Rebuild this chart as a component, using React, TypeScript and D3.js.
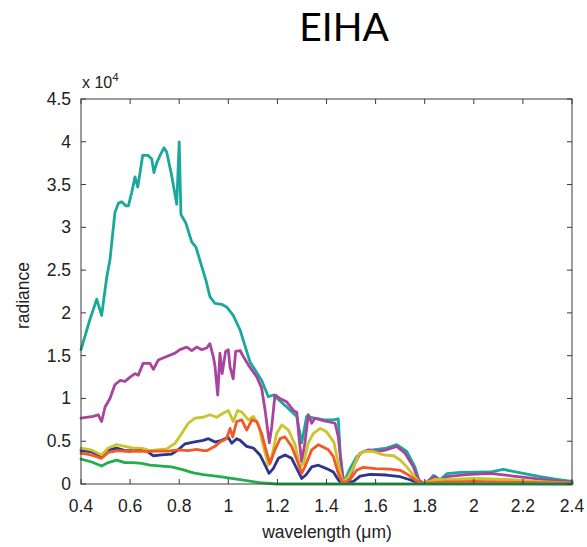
import React from "react";
import * as d3 from "d3";

const title = "EIHA";
const xTicks = [0.4, 0.6, 0.8, 1, 1.2, 1.4, 1.6, 1.8, 2, 2.2, 2.4];
const yTicks = [0, 0.5, 1, 1.5, 2, 2.5, 3, 3.5, 4, 4.5];

const teal: [number, number][] = [
  [0.4, 1.57], [0.436, 1.92], [0.464, 2.16], [0.484, 1.97], [0.505, 2.42], [0.518, 2.62], [0.538, 3.17],
  [0.552, 3.28], [0.566, 3.3], [0.583, 3.25], [0.593, 3.25], [0.606, 3.4], [0.62, 3.59], [0.631, 3.47],
  [0.64, 3.63], [0.651, 3.84], [0.674, 3.84], [0.688, 3.8], [0.697, 3.64], [0.708, 3.75], [0.722, 3.84],
  [0.738, 3.93], [0.749, 3.88], [0.769, 3.61], [0.79, 3.27], [0.8, 4.0], [0.807, 3.15], [0.827, 3.05],
  [0.851, 2.83], [0.868, 2.77], [0.892, 2.54], [0.909, 2.38], [0.925, 2.19], [0.946, 2.11], [0.973, 2.1],
  [0.993, 2.07], [1.02, 1.97], [1.048, 1.8], [1.088, 1.43], [1.136, 1.21], [1.163, 1.02], [1.183, 1.04],
  [1.238, 0.9], [1.279, 0.79], [1.299, 0.48], [1.319, 0.79], [1.35, 0.77], [1.39, 0.75], [1.428, 0.75],
  [1.448, 0.76], [1.456, 0.36], [1.47, 0.01], [1.496, 0.18], [1.523, 0.32], [1.55, 0.38], [1.59, 0.4],
  [1.645, 0.42], [1.686, 0.46], [1.727, 0.38], [1.76, 0.2], [1.78, 0.01], [1.81, 0.01], [1.835, 0.1],
  [1.862, 0.05], [1.89, 0.12], [1.944, 0.137], [2.066, 0.14], [2.12, 0.17], [2.175, 0.14], [2.27, 0.085],
  [2.338, 0.055], [2.4, 0.03],
];

const magenta: [number, number][] = [
  [0.4, 0.77], [0.45, 0.79], [0.47, 0.81], [0.484, 0.73], [0.498, 0.9], [0.518, 1.0], [0.538, 1.16],
  [0.559, 1.21], [0.579, 1.2], [0.6, 1.25], [0.62, 1.29], [0.633, 1.27], [0.653, 1.41], [0.681, 1.41],
  [0.695, 1.34], [0.715, 1.45], [0.749, 1.49], [0.783, 1.53], [0.803, 1.57], [0.831, 1.6], [0.851, 1.56],
  [0.871, 1.6], [0.892, 1.57], [0.912, 1.59], [0.925, 1.64], [0.939, 1.49], [0.946, 1.37], [0.957, 1.04],
  [0.966, 1.53], [0.975, 1.29], [0.989, 1.55], [1.0, 1.57], [1.007, 1.37], [1.02, 1.23], [1.03, 1.55],
  [1.048, 1.56], [1.061, 1.49], [1.082, 1.39], [1.116, 1.25], [1.136, 1.12], [1.15, 0.86], [1.167, 0.48],
  [1.177, 0.67], [1.19, 1.04], [1.21, 1.0], [1.238, 0.96], [1.265, 0.86], [1.279, 0.84], [1.289, 0.51],
  [1.299, 0.26], [1.312, 0.48], [1.326, 0.81], [1.34, 0.71], [1.353, 0.77], [1.387, 0.74], [1.435, 0.71],
  [1.448, 0.55], [1.462, 0.16], [1.471, 0.01], [1.496, 0.085], [1.516, 0.24], [1.537, 0.36], [1.571, 0.4],
  [1.611, 0.38], [1.645, 0.4], [1.686, 0.44], [1.72, 0.36], [1.754, 0.2], [1.774, 0.05], [1.795, 0.01],
  [1.822, 0.05], [1.842, 0.09], [1.862, 0.03], [1.89, 0.085], [1.97, 0.11], [2.066, 0.125], [2.16, 0.093],
  [2.27, 0.058], [2.4, 0.02],
];

const yellow: [number, number][] = [
  [0.4, 0.42], [0.441, 0.4], [0.484, 0.34], [0.511, 0.42], [0.545, 0.46], [0.579, 0.44], [0.613, 0.42],
  [0.647, 0.42], [0.681, 0.39], [0.708, 0.4], [0.749, 0.41], [0.783, 0.475], [0.81, 0.59], [0.837, 0.71],
  [0.864, 0.77], [0.898, 0.78], [0.925, 0.81], [0.953, 0.78], [0.98, 0.83], [1.0, 0.86], [1.02, 0.73],
  [1.038, 0.86], [1.055, 0.84], [1.082, 0.75], [1.102, 0.79], [1.123, 0.69], [1.143, 0.44], [1.163, 0.22],
  [1.177, 0.32], [1.197, 0.59], [1.218, 0.69], [1.245, 0.63], [1.272, 0.46], [1.292, 0.2], [1.306, 0.24],
  [1.326, 0.48], [1.346, 0.59], [1.374, 0.65], [1.4, 0.61], [1.43, 0.49], [1.448, 0.24], [1.466, 0.02],
  [1.489, 0.085], [1.51, 0.2], [1.53, 0.34], [1.557, 0.385], [1.59, 0.38], [1.632, 0.34], [1.673, 0.33],
  [1.7, 0.28], [1.727, 0.2], [1.754, 0.105], [1.78, 0.01], [1.822, 0.03], [1.842, 0.055], [1.89, 0.05],
  [1.997, 0.066], [2.133, 0.055], [2.27, 0.027], [2.4, 0.01],
];

const orange: [number, number][] = [
  [0.4, 0.36], [0.441, 0.34], [0.484, 0.3], [0.511, 0.37], [0.552, 0.39], [0.593, 0.38], [0.633, 0.385],
  [0.674, 0.38], [0.715, 0.385], [0.756, 0.385], [0.796, 0.4], [0.837, 0.39], [0.871, 0.405], [0.898, 0.39],
  [0.912, 0.39], [0.946, 0.44], [0.966, 0.49], [0.993, 0.53], [1.007, 0.65], [1.018, 0.55], [1.034, 0.73],
  [1.055, 0.75], [1.075, 0.63], [1.096, 0.75], [1.116, 0.73], [1.136, 0.59], [1.157, 0.36], [1.17, 0.24],
  [1.19, 0.4], [1.211, 0.53], [1.231, 0.55], [1.258, 0.44], [1.285, 0.24], [1.299, 0.125], [1.312, 0.2],
  [1.34, 0.4], [1.367, 0.46], [1.408, 0.4], [1.428, 0.32], [1.448, 0.125], [1.466, 0.01], [1.496, 0.05],
  [1.523, 0.16], [1.55, 0.195], [1.6, 0.18], [1.66, 0.175], [1.7, 0.16], [1.734, 0.105], [1.768, 0.035],
  [1.795, 0.01], [1.89, 0.025], [2.0, 0.03], [2.2, 0.02], [2.4, 0.01],
];

const blue: [number, number][] = [
  [0.4, 0.39], [0.441, 0.38], [0.484, 0.32], [0.511, 0.4], [0.545, 0.42], [0.579, 0.39], [0.62, 0.39],
  [0.661, 0.4], [0.695, 0.33], [0.729, 0.34], [0.769, 0.35], [0.796, 0.4], [0.824, 0.47], [0.858, 0.49],
  [0.898, 0.51], [0.919, 0.53], [0.946, 0.49], [0.973, 0.51], [1.0, 0.545], [1.014, 0.475], [1.034, 0.53],
  [1.048, 0.51], [1.075, 0.44], [1.102, 0.42], [1.129, 0.34], [1.15, 0.22], [1.166, 0.125], [1.183, 0.18],
  [1.204, 0.3], [1.231, 0.34], [1.258, 0.3], [1.279, 0.18], [1.299, 0.065], [1.316, 0.105], [1.34, 0.2],
  [1.367, 0.22], [1.4, 0.18], [1.428, 0.14], [1.448, 0.05], [1.46, 0.01], [1.51, 0.03], [1.537, 0.093],
  [1.578, 0.113], [1.645, 0.105], [1.7, 0.085], [1.74, 0.05], [1.775, 0.01], [1.9, 0.005], [2.4, 0.003],
];

const green: [number, number][] = [
  [0.4, 0.29], [0.441, 0.26], [0.484, 0.21], [0.511, 0.25], [0.545, 0.28], [0.579, 0.25], [0.613, 0.25],
  [0.647, 0.24], [0.681, 0.22], [0.729, 0.21], [0.769, 0.2], [0.81, 0.17], [0.858, 0.13], [0.898, 0.11],
  [0.966, 0.085], [1.048, 0.05], [1.129, 0.015], [1.197, 0.0], [2.4, 0.0],
];

const seriesList = [
  { name: "teal", data: teal, color: "#1aa89c" },
  { name: "magenta", data: magenta, color: "#a8449e" },
  { name: "blue", data: blue, color: "#2b3590" },
  { name: "yellow", data: yellow, color: "#c9c52a" },
  { name: "orange", data: orange, color: "#f15a26" },
  { name: "green", data: green, color: "#21ae4b" },
];

const W = 587;
const H = 547;
const left = 81;
const right = 572;
const top = 99;
const bottom = 484;
const axisFont = "'Liberation Sans', Arial, sans-serif";

export default function App() {
  const x = d3.scaleLinear().domain([0.4, 2.4]).range([left, right]);
  const y = d3.scaleLinear().domain([0, 4.5]).range([bottom, top]);
  const line = d3
    .line<[number, number]>()
    .x((d) => x(d[0]))
    .y((d) => y(d[1]));
  const tickLen = 5;
  const axisColor = "#3a3a3a";
  return (
    <svg
      width={W}
      height={H}
      style={{ position: "absolute", left: 0, top: 0, background: "#fff" }}
    >
      <text
        x={344}
        y={41}
        textAnchor="middle"
        fontFamily="Lato, 'Open Sans', sans-serif"
        fontSize={39}
        fill="#000"
      >
        {title}
      </text>
      <g>
        {seriesList.map((s) => (
          <path
            key={s.name}
            d={line(s.data) || ""}
            fill="none"
            stroke={s.color}
            strokeWidth={2.8}
            strokeLinejoin="round"
            strokeLinecap="round"
          />
        ))}
      </g>
      <rect
        x={left}
        y={top}
        width={right - left}
        height={bottom - top}
        fill="none"
        stroke={axisColor}
        strokeWidth={1}
      />
      {xTicks.map((t) => (
        <g key={"x" + t}>
          <line x1={x(t)} x2={x(t)} y1={bottom} y2={bottom - tickLen} stroke={axisColor} />
          <line x1={x(t)} x2={x(t)} y1={top} y2={top + tickLen} stroke={axisColor} />
          <text
            x={x(t)}
            y={512}
            textAnchor="middle"
            fontFamily={axisFont}
            fontSize={17.5}
            fill="#222"
          >
            {String(t)}
          </text>
        </g>
      ))}
      {yTicks.map((t) => (
        <g key={"y" + t}>
          <line x1={left} x2={left + tickLen} y1={y(t)} y2={y(t)} stroke={axisColor} />
          <line x1={right} x2={right - tickLen} y1={y(t)} y2={y(t)} stroke={axisColor} />
          <text
            x={71}
            y={y(t) + 6}
            textAnchor="end"
            fontFamily={axisFont}
            fontSize={17.5}
            fill="#222"
          >
            {String(t)}
          </text>
        </g>
      ))}
      <text x={82} y={88} fontFamily={axisFont} fontSize={16} fill="#222">
        x 10
        <tspan dy={-7} fontSize={11.5}>
          4
        </tspan>
      </text>
      <text
        x={327}
        y={538}
        textAnchor="middle"
        fontFamily={axisFont}
        fontSize={17.5}
        fill="#222"
      >
        wavelength (μm)
      </text>
      <text
        transform={`translate(29,${(top + bottom) / 2 + 4}) rotate(-90)`}
        textAnchor="middle"
        fontFamily={axisFont}
        fontSize={17.5}
        fill="#222"
      >
        radiance
      </text>
    </svg>
  );
}
